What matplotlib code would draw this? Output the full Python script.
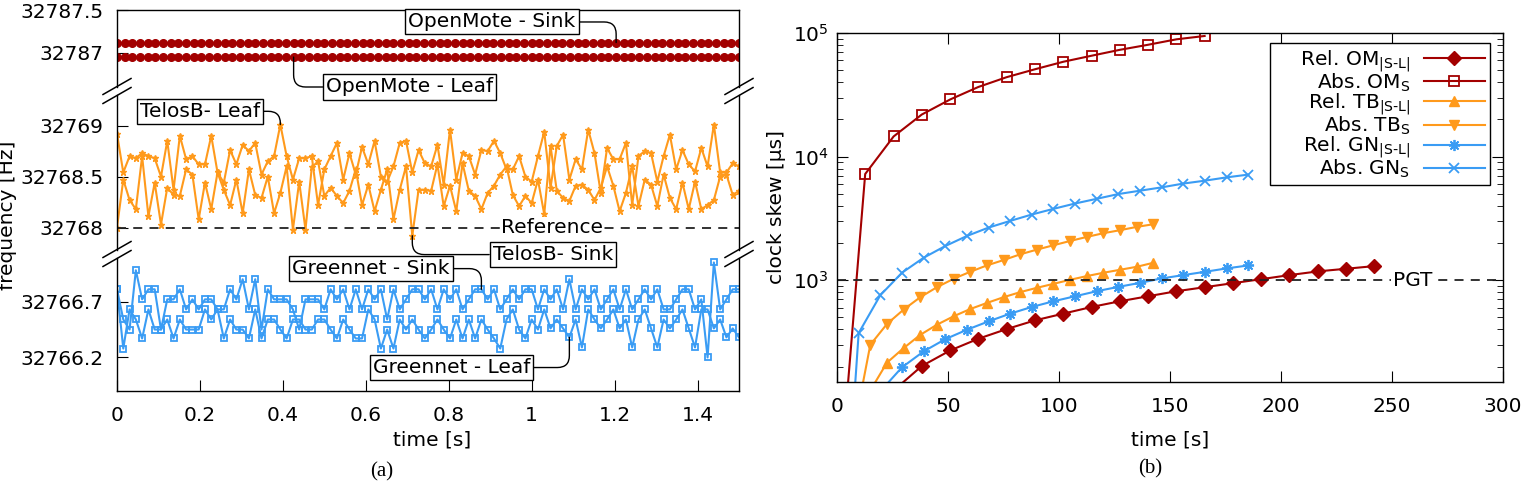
import numpy as np
import matplotlib
matplotlib.use("Agg")
import matplotlib.pyplot as plt
from matplotlib.lines import Line2D
from matplotlib.ticker import NullFormatter

# ---------------- (a) crystal frequency [Hz] over 1.5 s ----------------
T_END = 1.5
OM_SINK = [32787.12] * 82
OM_LEAF = [32786.95] * 82

TB_LEAF = [
    32768.92, 32768.54, 32768.70, 32768.68, 32768.73, 32768.70, 32768.68, 32768.50, 32768.85, 32768.37,
    32768.90, 32768.67, 32768.70, 32768.62, 32768.62, 32768.90, 32768.54, 32768.44, 32768.76, 32768.62,
    32768.81, 32768.75, 32768.83, 32768.52, 32768.65, 32768.70, 32769.01, 32768.70, 32768.47, 32768.68,
    32768.68, 32768.70, 32768.22, 32768.57, 32768.70, 32768.83, 32768.47, 32768.73, 32768.52, 32768.79,
    32768.62, 32768.85, 32768.50, 32768.45, 32768.60, 32768.83, 32768.85, 32768.54, 32768.76, 32768.63,
    32768.60, 32768.81, 32768.42, 32768.96, 32768.47, 32768.73, 32768.70, 32768.52, 32768.76, 32768.75,
    32768.85, 32768.73, 32768.57, 32768.57, 32768.70, 32768.50, 32768.45, 32768.70, 32768.94, 32768.39,
    32768.80, 32768.91, 32768.47, 32768.67, 32768.57, 32768.96, 32768.73, 32768.34, 32768.78, 32768.67,
    32768.67, 32768.83, 32768.22, 32768.70, 32768.75, 32768.73, 32768.45, 32768.70, 32768.91, 32768.57,
    32768.76, 32768.62, 32768.55, 32768.78, 32768.60, 32769.01, 32768.54, 32768.54, 32768.63, 32768.60,
]
TB_SINK = [
    32768.00, 32768.47, 32768.27, 32768.18, 32768.70, 32768.11, 32768.44, 32768.03, 32768.39, 32768.32,
    32768.31, 32768.57, 32768.52, 32768.08, 32768.44, 32768.18, 32768.54, 32768.37, 32768.22, 32768.47,
    32768.14, 32768.57, 32768.32, 32768.29, 32768.50, 32768.14, 32768.34, 32768.60, 32767.98, 32768.45,
    32767.98, 32768.59, 32768.65, 32768.31, 32768.39, 32768.31, 32768.24, 32768.36, 32768.57, 32768.22,
    32768.42, 32768.16, 32768.37, 32768.57, 32768.08, 32768.37, 32768.60, 32767.92, 32768.37, 32768.37,
    32768.36, 32768.62, 32768.21, 32768.41, 32768.16, 32768.63, 32768.36, 32768.31, 32768.18, 32768.34,
    32768.41, 32768.52, 32768.60, 32768.32, 32768.21, 32768.31, 32768.24, 32768.47, 32768.13, 32768.80,
    32768.36, 32768.29, 32768.26, 32768.41, 32768.42, 32768.37, 32768.27, 32768.39, 32768.60, 32768.41,
    32768.16, 32768.34, 32768.60, 32768.21, 32768.47, 32768.42, 32768.21, 32768.52, 32768.29, 32768.18,
    32768.44, 32768.18, 32768.45, 32768.18, 32768.22, 32768.27, 32768.50, 32768.52, 32768.32, 32768.36,
]
GN_SINK = [
    32766.81, 32766.54, 32766.45, 32766.98, 32766.72, 32766.81, 32766.81, 32766.45, 32766.72, 32766.72,
    32766.81, 32766.63, 32766.72, 32766.63, 32766.72, 32766.72, 32766.63, 32766.63, 32766.81, 32766.72,
    32766.90, 32766.63, 32766.90, 32766.45, 32766.81, 32766.72, 32766.72, 32766.72, 32766.63, 32766.45,
    32766.72, 32766.72, 32766.72, 32766.63, 32766.81, 32766.72, 32766.81, 32766.63, 32766.81, 32766.63,
    32766.81, 32766.72, 32766.81, 32766.54, 32766.81, 32766.63, 32766.72, 32766.81, 32766.81, 32766.72,
    32766.81, 32766.63, 32766.81, 32766.72, 32766.81, 32766.63, 32766.72, 32766.81, 32766.81, 32766.72,
    32766.81, 32766.63, 32766.72, 32766.81, 32766.72, 32766.81, 32766.81, 32766.63, 32766.81, 32766.72,
    32766.81, 32766.63, 32766.90, 32766.63, 32766.81, 32766.72, 32766.81, 32766.63, 32766.72, 32766.81,
    32766.63, 32766.81, 32766.63, 32766.72, 32766.81, 32766.72, 32766.81, 32766.63, 32766.63, 32766.72,
    32766.81, 32766.81, 32766.63, 32766.72, 32766.20, 32767.05, 32766.63, 32766.72, 32766.81, 32766.81,
]
GN_LEAF = [
    32766.81, 32766.28, 32766.63, 32766.54, 32766.37, 32766.63, 32766.45, 32766.45, 32766.54, 32766.37,
    32766.54, 32766.45, 32766.45, 32766.45, 32766.63, 32766.54, 32766.63, 32766.37, 32766.54, 32766.45,
    32766.45, 32766.37, 32766.63, 32766.37, 32766.54, 32766.54, 32766.45, 32766.37, 32766.54, 32766.54,
    32766.45, 32766.45, 32766.54, 32766.54, 32766.45, 32766.37, 32766.54, 32766.45, 32766.37, 32766.37,
    32766.63, 32766.54, 32766.28, 32766.45, 32766.28, 32766.54, 32766.45, 32766.54, 32766.45, 32766.37,
    32766.45, 32766.54, 32766.45, 32766.37, 32766.54, 32766.37, 32766.54, 32766.37, 32766.54, 32766.45,
    32766.37, 32766.28, 32766.54, 32766.63, 32766.45, 32766.37, 32766.54, 32766.45, 32766.63, 32766.46,
    32766.54, 32766.46, 32766.38, 32766.54, 32766.29, 32766.63, 32766.54, 32766.46, 32766.54, 32766.63,
    32766.46, 32766.54, 32766.29, 32766.54, 32766.63, 32766.46, 32766.29, 32766.54, 32766.46, 32766.54,
    32766.63, 32766.46, 32766.29, 32766.63, 32766.63, 32766.46, 32766.54, 32766.38, 32766.46, 32766.38,
]
REF_FREQ = 32768

# ---------------- (b) clock skew [us] vs time [s] ----------------
OM_T = [0, 12.7, 25.5, 38.2, 51.0, 63.7, 76.4, 89.2, 101.9, 114.7,
        127.4, 140.1, 152.9, 165.6, 178.4, 191.1, 203.8, 216.6, 229.3, 242.1]
TB_T = [0, 7.5, 15, 22.5, 30, 37.5, 45, 52.5, 60, 67.5,
        75, 82.5, 90, 97.5, 105, 112.5, 120, 127.5, 135, 142.5]
GN_T = [0, 9.75, 19.5, 29.25, 39.0, 48.75, 58.5, 68.25, 78.0, 87.75,
        97.5, 107.25, 117.0, 126.75, 136.5, 146.25, 156.0, 165.75, 175.5, 185.25]

REL_OM = [62, 128, 202, 270, 336, 402, 473, 536, 607, 675,
          741, 814, 877, 946, 1019, 1099, 1178, 1237, 1300]          # OM_T[1:]
ABS_OM = [12, 7230, 14550, 21900, 29000, 36600, 43900, 50900, 58500, 65500,
          73100, 80300, 88900, 94600]                                 # OM_T[:14]
REL_TB = [62, 128, 215, 282, 361, 436, 510, 584, 654, 728,
          800, 867, 934, 1007, 1079, 1148, 1214, 1283, 1383]          # TB_T[1:]
ABS_TB = [60, 300, 442, 578, 728, 877, 1026, 1169, 1316, 1454,
          1618, 1766, 1916, 2076, 2238, 2399, 2538, 2698, 2836]       # TB_T[1:]
REL_GN = [62, 126, 197, 265, 333, 397, 464, 536, 607, 675,
          741, 814, 883, 951, 1033, 1099, 1169, 1245, 1316]           # GN_T[1:]
ABS_GN = [1, 373, 755, 1148, 1518, 1888, 2278, 2663, 3017, 3398,
          3777, 4172, 4555, 4977, 5297, 5636, 6050, 6385, 6790, 7150]  # GN_T
PGT = 1000

RED = "#a30000"
ORANGE = "#ff9a1c"
BLUE = "#3a9cf4"
FS = 14.5

plt.rcParams["font.family"] = "DejaVu Sans"
plt.rcParams["font.size"] = FS
plt.rcParams["axes.linewidth"] = 1.0

W, H = 1531, 483
fig = plt.figure(figsize=(W / 100, H / 100), dpi=100)


def rect(l, t, r, b):
    return [l / W, 1 - b / H, (r - l) / W, (b - t) / H]


# ---------------- panel (a): broken y axis ----------------
ax_top = fig.add_axes(rect(117, 10, 739, 87), facecolor="none")
ax_mid = fig.add_axes(rect(117, 95, 739, 250), facecolor="none")
ax_bot = fig.add_axes(rect(117, 258, 739, 391), facecolor="none")

t_om = np.linspace(0, T_END, len(OM_SINK))
t_s = np.linspace(0, T_END, len(TB_LEAF))

ax_top.plot(t_om, OM_SINK, color=RED, lw=1.5, marker="o", ms=5.5)
ax_top.plot(t_om, OM_LEAF, color=RED, lw=1.5, marker="o", ms=5.5)
ax_mid.plot(t_s, TB_LEAF, color=ORANGE, lw=1.5, marker="*", ms=4.5)
ax_mid.plot(t_s, TB_SINK, color=ORANGE, lw=1.5, marker="*", ms=4.5)
ax_bot.plot(t_s, GN_SINK, color=BLUE, lw=1.5, marker="s", ms=4.5, mfc="none", mew=1.3)
ax_bot.plot(t_s, GN_LEAF, color=BLUE, lw=1.5, marker="s", ms=4.5, mfc="none", mew=1.3)
ax_mid.axhline(REF_FREQ, color="#222222", lw=1.3, dashes=(5, 4))
ax_mid.text(1.048, REF_FREQ, "Reference", ha="center", va="center", fontsize=FS,
            bbox=dict(boxstyle="square,pad=0.05", fc="white", ec="none"))

ax_top.set_ylim(32786.6, 32787.5)
ax_mid.set_ylim(32767.78, 32769.30)
ax_bot.set_ylim(32765.9, 32767.09)
ax_top.set_yticks([32787, 32787.5], ["32787", "32787.5"])
ax_mid.set_yticks([32768, 32768.5, 32769], ["32768", "32768.5", "32769"])
ax_bot.set_yticks([32766.2, 32766.7], ["32766.2", "32766.7"])

for ax in (ax_top, ax_mid, ax_bot):
    ax.set_xlim(0, T_END)
    ax.tick_params(axis="y", direction="in", length=8, pad=10, right=False)
    ax.tick_params(axis="x", direction="in", length=8, pad=11, top=False)
ax_top.spines["bottom"].set_visible(False)
ax_mid.spines["bottom"].set_visible(False)
ax_mid.spines["top"].set_visible(False)
ax_bot.spines["top"].set_visible(False)
ax_top.set_xticks([])
ax_mid.set_xticks([])
ax_bot.set_xticks([0, 0.2, 0.4, 0.6, 0.8, 1, 1.2, 1.4], ["0", "0.2", "0.4", "0.6", "0.8", "1", "1.2", "1.4"])
ax_bot.set_xlabel("time [s]")
ax_bot.xaxis.set_label_coords(0.506, -0.30)
fig.text(8 / W, 1 - 215 / H, "frequency [Hz]", rotation=90, ha="center", va="center")

# break marks "//" on both sides of each gap
for y_gap in ((87 + 95) / 2, (250 + 258) / 2):
    for x_sp in (117, 739):
        for dy in (-4.5, 4.5):
            xs = [(x_sp - 14) / W, (x_sp + 14) / W]
            ys = [1 - (y_gap + dy + 8) / H, 1 - (y_gap + dy - 8) / H]
            fig.add_artist(Line2D(xs, ys, color="black", lw=1.1, transform=fig.transFigure))

box = dict(boxstyle="square,pad=0.15", fc="white", ec="black", lw=1)
conn = dict(arrowstyle="-", color="black", lw=1, shrinkA=0, shrinkB=0,
            connectionstyle="angle,angleA=0,angleB=90,rad=12")
i_om_s, i_om_l = 65, 23
ax_top.annotate("OpenMote - Sink", xy=(t_om[i_om_s], OM_SINK[i_om_s]), xytext=(0.904, 32787.36),
                ha="center", va="center", bbox=box, arrowprops=conn, annotation_clip=False, zorder=5)
ax_top.annotate("OpenMote - Leaf", xy=(t_om[i_om_l], OM_LEAF[i_om_l]), xytext=(0.706, 32786.6),
                ha="center", va="center", bbox=box, arrowprops=conn, annotation_clip=False, zorder=5)
ax_mid.annotate("TelosB- Leaf", xy=(t_s[26], TB_LEAF[26]), xytext=(0.2, 32769.14),
                ha="center", va="center", bbox=box, arrowprops=conn, annotation_clip=False, zorder=5)
ax_mid.annotate("TelosB- Sink", xy=(t_s[47], TB_SINK[47]), xytext=(1.051, 32767.735),
                ha="center", va="center", bbox=box, arrowprops=conn, annotation_clip=False, zorder=5)
ax_bot.annotate("Greennet - Sink", xy=(t_s[58], GN_SINK[58]), xytext=(0.612, 32766.995),
                ha="center", va="center", bbox=box, arrowprops=conn, annotation_clip=False, zorder=5)
ax_bot.annotate("Greennet - Leaf", xy=(t_s[72], GN_LEAF[72]), xytext=(0.807, 32766.11),
                ha="center", va="center", bbox=box, arrowprops=conn, annotation_clip=False, zorder=5)

# ---------------- panel (b): clock skew ----------------
SUB_SL = r"$_{\mathregular{|S‐L|}}$"
SUB_S = r"$_{\mathregular{S}}$"
axr = fig.add_axes(rect(837, 33, 1503, 382))
axr.plot(OM_T[1:], REL_OM, color=RED, lw=1.5, marker="D", ms=7, label="    Rel. OM" + SUB_SL)
axr.plot(OM_T[:len(ABS_OM)], ABS_OM, color=RED, lw=1.5, marker="s", ms=7, mfc="none", mew=1.3,
         label="Abs. OM" + SUB_S)
axr.plot(TB_T[1:], REL_TB, color=ORANGE, lw=1.5, marker="^", ms=7, label="Rel. TB" + SUB_SL)
axr.plot(TB_T[1:], ABS_TB, color=ORANGE, lw=1.5, marker="v", ms=7, label="Abs. TB" + SUB_S)
axr.plot(GN_T[1:], REL_GN, color=BLUE, lw=1.5, marker=(8, 2, 0), ms=8, mew=1.3, label="Rel. GN" + SUB_SL)
axr.plot(GN_T, ABS_GN, color=BLUE, lw=1.5, marker="x", ms=7, mew=1.3, label="Abs. GN" + SUB_S)
axr.axhline(PGT, color="#222222", lw=1.3, dashes=(5, 4))
axr.text(259.5, PGT, "PGT", ha="center", va="center", fontsize=FS,
         bbox=dict(boxstyle="square,pad=0.1", fc="white", ec="none"))

axr.set_yscale("log")
axr.set_xlim(0, 300)
axr.set_ylim(150, 1e5)
axr.set_xticks(range(0, 301, 50))
axr.yaxis.set_minor_formatter(NullFormatter())
axr.tick_params(which="both", direction="in", top=True, right=True)
axr.tick_params(which="major", length=8, pad=11)
axr.tick_params(which="minor", length=4)
axr.tick_params(axis="y", which="major", pad=6)
axr.set_xlabel("time [s]")
axr.xaxis.set_label_coords(0.5, -0.14)
axr.set_ylabel("clock skew [µs]")
axr.yaxis.set_label_coords(-0.077, 0.5)

leg = axr.legend(loc="upper right", bbox_to_anchor=(0.98, 0.971), markerfirst=False, fancybox=False,
                 edgecolor="black", framealpha=1, fontsize=FS, handlelength=3.0, labelspacing=-0.12,
                 borderpad=0.25, handletextpad=0.7, borderaxespad=0)
leg.get_frame().set_linewidth(1.0)

fig.text(382 / W, 1 - 472 / H, "(a)", ha="center", va="center", family="Liberation Serif", fontsize=15)
fig.text(1150 / W, 1 - 469 / H, "(b)", ha="center", va="center", family="Liberation Serif", fontsize=15)

fig.savefig("out.png", dpi=100)
